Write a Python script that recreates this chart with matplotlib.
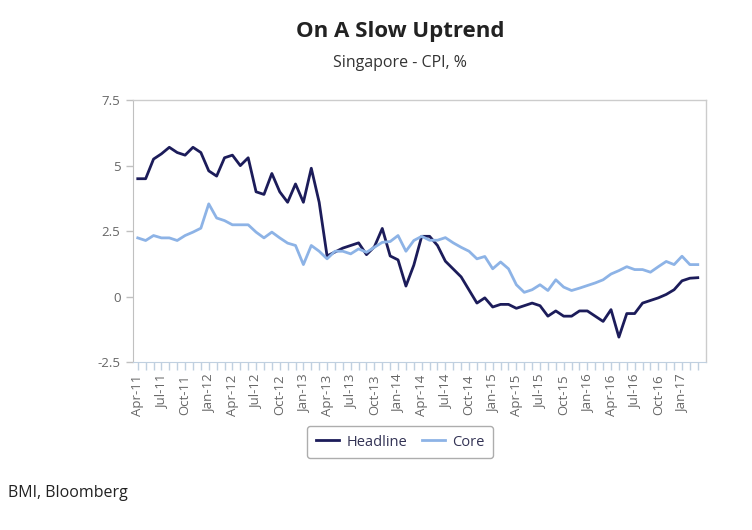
import numpy as np
import pandas as pd
import matplotlib
matplotlib.use("Agg")
import matplotlib.pyplot as plt

plt.rcParams['font.family'] = ['Open Sans', 'DejaVu Sans']

months = pd.date_range("2011-04-01", "2017-03-01", freq="MS")
tick_labels = [d.strftime("%b-%y") for d in months]

headline = [4.5, 4.5, 5.25, 5.45, 5.7, 5.5, 5.4, 5.7, 5.5, 4.8, 4.6, 5.3,
            5.4, 5.0, 5.3, 4.0, 3.9, 4.7, 4.0, 3.6, 4.3, 3.6, 4.9, 3.6,
            1.55, 1.7, 1.85, 1.95, 2.05, 1.6, 1.9, 2.6, 1.55, 1.4, 0.4, 1.2,
            2.3, 2.3, 1.95, 1.35, 1.05, 0.75, 0.25, -0.25, -0.05, -0.4, -0.3, -0.3,
            -0.45, -0.35, -0.25, -0.35, -0.75, -0.55, -0.75, -0.75, -0.55, -0.55, -0.75, -0.95,
            -0.5, -1.55, -0.65, -0.65, -0.25, -0.15, -0.05, 0.08, 0.26, 0.6, 0.7, 0.72]

core = [2.24, 2.14, 2.33, 2.24, 2.24, 2.14, 2.33, 2.46, 2.61, 3.54, 3.0, 2.9,
        2.74, 2.74, 2.74, 2.46, 2.24, 2.46, 2.24, 2.04, 1.95, 1.22, 1.95, 1.73,
        1.44, 1.73, 1.73, 1.63, 1.82, 1.69, 1.88, 2.07, 2.1, 2.33, 1.73, 2.14,
        2.3, 2.15, 2.15, 2.25, 2.05, 1.88, 1.73, 1.44, 1.53, 1.06, 1.32, 1.06,
        0.45, 0.16, 0.26, 0.45, 0.23, 0.64, 0.36, 0.23, 0.32, 0.42, 0.52, 0.64,
        0.86, 0.99, 1.14, 1.03, 1.03, 0.93, 1.14, 1.34, 1.22, 1.54, 1.22, 1.22]

fig = plt.figure(figsize=(7.52, 5.30), dpi=100)
ax = fig.add_axes([0.1769, 0.317, 0.762, 0.494])

x = np.arange(len(months))
ax.plot(x, headline, color='#1c1c5a', lw=2.0, label='Headline')
ax.plot(x, core, color='#8db3e6', lw=2.0, label='Core')

ax.set_xlim(-0.6, 72.05)
ax.set_ylim(-2.5, 7.5)
ax.set_yticks([-2.5, 0, 2.5, 5, 7.5])
ax.set_yticklabels(['-2.5', '0', '2.5', '5', '7.5'])

ax.set_xticks(x[::3])
ax.set_xticklabels(tick_labels[::3], rotation=90)
ax.set_xticks(x, minor=True)

for s in ['top', 'right']:
    ax.spines[s].set_color('#cccccc')
    ax.spines[s].set_linewidth(1)
ax.spines['left'].set_color('#c0c0c0')
ax.spines['bottom'].set_color('#c0d0e0')

ax.tick_params(axis='y', colors='#c0c0c0', labelcolor='#666666', labelsize=9.5, length=5, width=1, pad=4)
ax.tick_params(axis='x', which='both', colors='#c0d0e0', labelcolor='#666666', labelsize=9.5,
               length=6, width=1, pad=3)

leg = fig.legend(loc='center', bbox_to_anchor=(0.532, 0.166), ncol=2, frameon=True,
                 fontsize=10.5, handlelength=1.6, columnspacing=1.0, handletextpad=0.5,
                 borderpad=0.6, fancybox=True)
leg.get_frame().set_edgecolor('#999999')
leg.get_frame().set_linewidth(1)
for t in leg.get_texts():
    t.set_color('#333355')

fig.text(0.532, 0.941, 'On A Slow Uptrend', ha='center', va='center', fontsize=16,
         fontweight='bold', color='#222222')
fig.text(0.532, 0.882, 'Singapore - CPI, %', ha='center', va='center', fontsize=11.5, color='#333333')
fig.text(0.011, 0.07, 'BMI, Bloomberg', ha='left', va='center', fontsize=11.5, color='#222222')

fig.savefig('out.png', dpi=100)
